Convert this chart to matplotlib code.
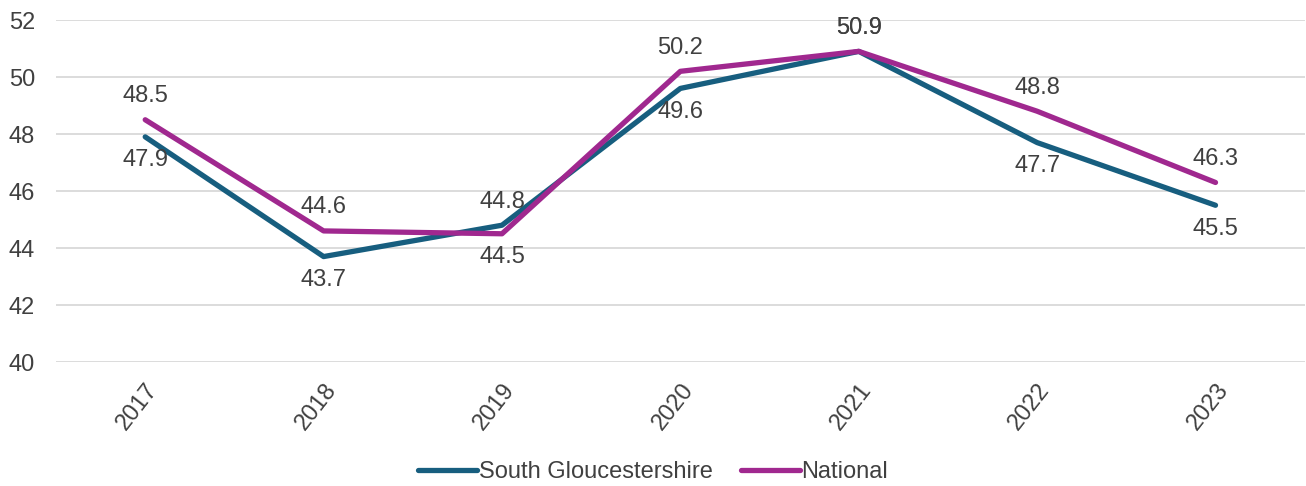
import matplotlib.pyplot as plt

years = ['2017', '2018', '2019', '2020', '2021', '2022', '2023']
south_glos = [47.9, 43.7, 44.8, 49.6, 50.9, 47.7, 45.5]
national = [48.5, 44.6, 44.5, 50.2, 50.9, 48.8, 46.3]

# label placement per point: 1 = above, -1 = below
south_glos_pos = [-1, -1, 1, -1, 1, -1, -1]
national_pos = [1, 1, -1, 1, 1, 1, 1]

plt.rcParams['font.family'] = ['Liberation Sans', 'DejaVu Sans']
text_col = '#404040'
fs = 17

fig = plt.figure(figsize=(13.06, 4.86), dpi=100)
ax = fig.add_axes([0.0429, 0.2551, 0.9561, 0.7037])

x = range(len(years))
sg_col = '#175E7F'
nat_col = '#A0288F'
ax.plot(x, south_glos, color=sg_col, lw=3.8, solid_capstyle='round',
        solid_joinstyle='round', label='South Gloucestershire', zorder=3)
ax.plot(x, national, color=nat_col, lw=3.8, solid_capstyle='round',
        solid_joinstyle='round', label='National', zorder=4)

for xi, v, p in zip(x, south_glos, south_glos_pos):
    ax.annotate(f'{v:.1f}', (xi, v), xytext=(0, 17 * p), textcoords='offset points',
                ha='center', va='center', fontsize=fs, color=text_col)
for xi, v, p in zip(x, national, national_pos):
    ax.annotate(f'{v:.1f}', (xi, v), xytext=(0, 17 * p), textcoords='offset points',
                ha='center', va='center', fontsize=fs, color=text_col)

ax.set_xlim(-0.5, len(years) - 0.5)
ax.set_ylim(40, 52)
ax.set_yticks(range(40, 53, 2))
ax.set_xticks(list(x))
ax.set_xticklabels(years, rotation=52, ha='right', rotation_mode='anchor')
ax.tick_params(axis='both', length=0, labelsize=fs, labelcolor=text_col)
ax.tick_params(axis='y', pad=15)
ax.tick_params(axis='x', pad=12)
ax.grid(axis='y', color='#D9D9D9', lw=1.3)
ax.set_axisbelow(True)
for s in ax.spines.values():
    s.set_visible(False)

fig.legend(loc='center', bbox_to_anchor=(0.5, 0.029), ncol=2, frameon=False,
           fontsize=fs, handlelength=2.5, handletextpad=0.05, columnspacing=1.2,
           labelcolor=text_col, borderpad=0)

fig.savefig('out.png', dpi=100)
